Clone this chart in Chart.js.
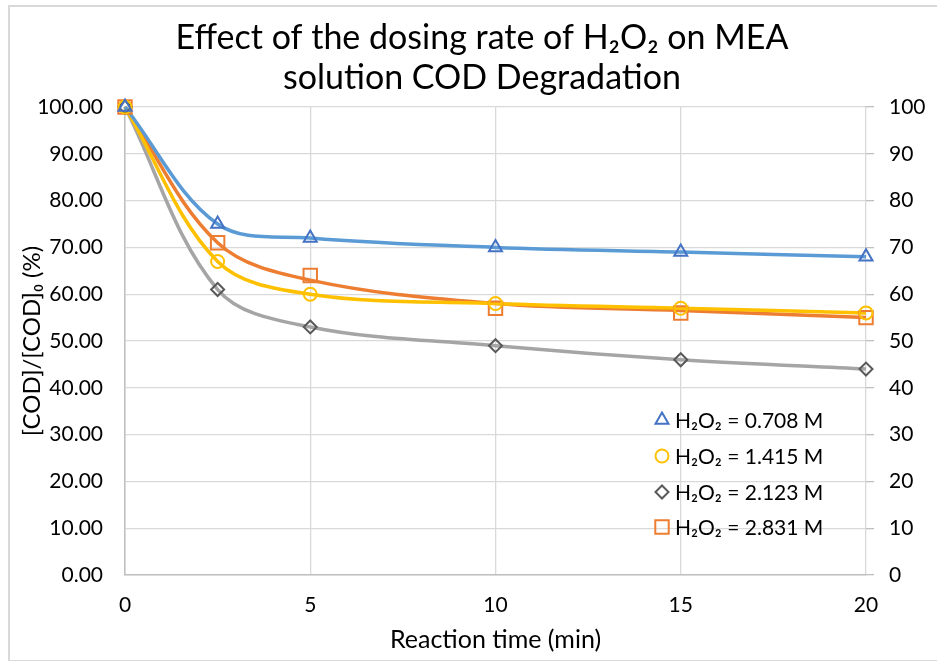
<!DOCTYPE html>
<html>
<head>
<meta charset="utf-8">
<script src="https://cdn.jsdelivr.net/npm/chart.js@4.4.0/dist/chart.umd.min.js"></script>
<style>
  body { margin: 0; background: #fff; }
  #wrap { position: relative; width: 937px; height: 661px; overflow: hidden; }
  #frame { position: absolute; left: 8px; top: 5px; width: 940px; height: 653px; border: 2px solid #d9d9d9; pointer-events: none; }
  canvas { position: absolute; left: 0; top: 0; }
</style>
</head>
<body>
<div id="wrap">
  <canvas id="myChart"></canvas>
  <div id="frame"></div>
</div>
<script>
// reaction time (min)
const times = [0, 2.5, 5, 10, 15, 20]
const xTicks = [0, 5, 10, 15, 20]

// measured [COD]/[COD]o (%) - markers
const h708 = [100, 75, 72, 70, 69, 68]
const h1415 = [100, 67, 60, 58, 57, 56]
const h2123 = [100, 61, 53, 49, 46, 44]
const h2831 = [100, 71, 64, 57, 56, 55]

// smoothed curves as drawn in the figure
const curve708 = [100, 75, 72, 70, 69, 68]
const curve1415 = [100, 67, 60, 58, 57, 56]
const curve2123 = [100, 61, 53, 49, 46, 44]
const curve2831 = [100, 71, 63, 58, 56.5, 55]

const seriesNames = ['H₂O₂ = 0.708 M', 'H₂O₂ = 1.415 M', 'H₂O₂ = 2.123 M', 'H₂O₂ = 2.831 M']
const titleLines = ['Effect of the dosing rate of H₂O₂ on MEA', 'solution COD Degradation']

const FONT = 'Lato, "Noto Sans", sans-serif'
const pts = arr => arr.map((v, i) => ({x: times[i], y: v}))

function markerSet(label, data, style, color, r) {
    return {
        label: label, data: pts(data), showLine: false, clip: false,
        pointStyle: style, pointRadius: r, pointHoverRadius: r,
        pointBorderColor: color, pointBackgroundColor: 'rgba(255,255,255,0)',
        pointBorderWidth: 2, borderColor: color, backgroundColor: 'rgba(0,0,0,0)'
    }
}
function curveSet(data, color) {
    return {
        label: '', data: pts(data), showLine: true, pointRadius: 0, clip: false,
        borderColor: color, borderWidth: 3.5, tension: 0.35, fill: false
    }
}

// legend drawn inside the plot, bottom right
const innerLegend = {
    id: 'innerLegend',
    afterDraw(chart) {
        const c = chart.ctx
        const rows = [420, 456, 492, 527]
        c.save()
        c.font = '21px ' + FONT
        c.textBaseline = 'middle'
        for (let i = 0; i < 4; i++) {
            const ds = chart.data.datasets[i]
            c.strokeStyle = ds.pointBorderColor
            c.fillStyle = 'rgba(0,0,0,0)'
            c.lineWidth = 2
            Chart.helpers.drawPoint(c, {pointStyle: ds.pointStyle, radius: ds.pointRadius, rotation: 0, borderWidth: 2}, 662, rows[i])
            c.fillStyle = '#000'
            c.fillText(seriesNames[i], 675, rows[i] + 1)
        }
        c.restore()
    }
}

const topTitle = {
    id: 'topTitle',
    afterDraw(chart) {
        const c = chart.ctx
        c.save()
        c.font = '34px ' + FONT
        c.fillStyle = '#000'
        c.textAlign = 'center'
        c.textBaseline = 'middle'
        c.fillText(titleLines[0], 482, 38)
        c.fillText(titleLines[1], 482, 78)
        c.restore()
    }
}

const whiteBg = {
    id: 'whiteBg',
    beforeDraw(chart) {
        const c = chart.ctx
        c.save()
        c.fillStyle = '#fff'
        c.fillRect(0, 0, chart.width, chart.height)
        c.restore()
    }
}

const ctx = document.getElementById('myChart')
ctx.width = 937
ctx.height = 661

let chart = new Chart(ctx, {
    type: 'scatter',
    data: {
        datasets: [
            markerSet(seriesNames[0], h708, 'triangle', '#4472C4', 7.5),
            markerSet(seriesNames[1], h1415, 'circle', '#FFC000', 6.5),
            markerSet(seriesNames[2], h2123, 'rectRot', '#595959', 6.5),
            markerSet(seriesNames[3], h2831, 'rect', '#ED7D31', 9.5),
            curveSet(curve708, '#5B9BD5'),
            curveSet(curve1415, '#FFC000'),
            curveSet(curve2123, '#A5A5A5'),
            curveSet(curve2831, '#ED7D31')
        ]
    },
    options: {
        responsive: false,
        animation: false,
        layout: {padding: {left: 9, top: 107, right: 0, bottom: 0}},
        plugins: {legend: {display: false}, tooltip: {enabled: false}, title: {display: false}},
        scales: {
            x: {
                type: 'linear', min: 0, max: 20,
                afterBuildTicks: s => { s.ticks = xTicks.map(v => ({value: v})) },
                afterFit: s => { s.height = 86 },
                grid: {color: '#d9d9d9', lineWidth: 1.3, drawTicks: false},
                border: {color: '#bfbfbf', width: 1.5},
                ticks: {padding: 18, color: '#000', font: {family: FONT, size: 21}, maxRotation: 0},
                title: {display: true, text: 'Reaction time (min)', color: '#000',
                    font: {family: FONT, size: 25}, padding: {top: 0, bottom: 6}}
            },
            y: {
                position: 'left', min: 0, max: 100,
                afterFit: s => { s.width = 116 },
                grid: {color: '#d9d9d9', lineWidth: 1.3, drawTicks: false},
                border: {color: '#bfbfbf', width: 1.5},
                ticks: {stepSize: 10, padding: 22, color: '#000', font: {family: FONT, size: 21},
                    callback: v => v.toFixed(2)},
                title: {display: true, text: '[COD]/[COD]₀ (%)', color: '#000',
                    font: {family: FONT, size: 24}, padding: {top: 9, bottom: 0}}
            },
            y2: {
                position: 'right', min: 0, max: 100,
                afterFit: s => { s.width = 71 },
                grid: {drawOnChartArea: false, color: '#bfbfbf', tickLength: 8, lineWidth: 1.3},
                border: {display: false},
                ticks: {stepSize: 10, padding: 15, color: '#000', font: {family: FONT, size: 21}}
            }
        }
    },
    plugins: [whiteBg, topTitle, innerLegend]
})
</script>
</body>
</html>
